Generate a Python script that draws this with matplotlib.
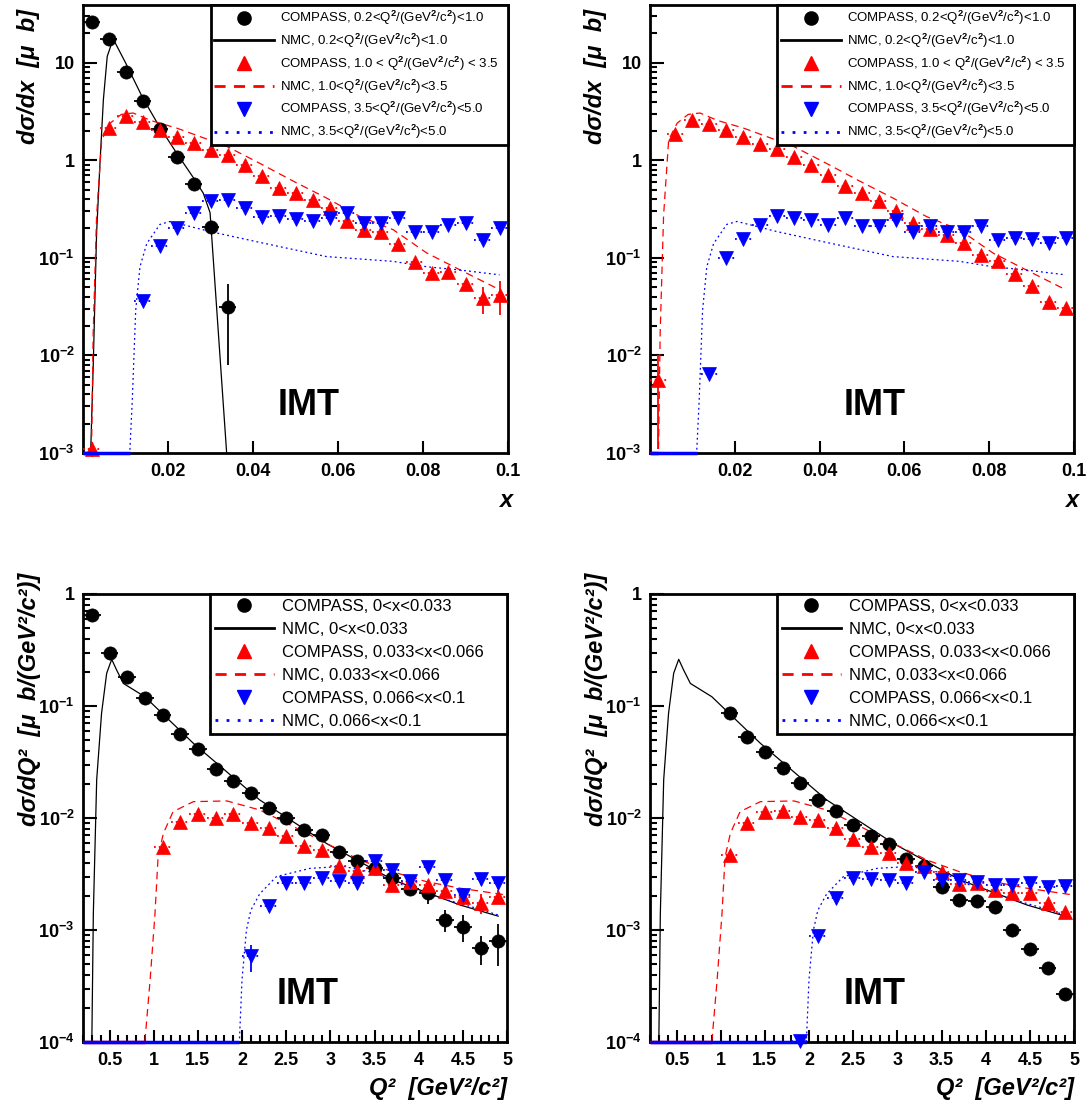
import matplotlib
matplotlib.use("Agg")
from matplotlib import pyplot as plt
from matplotlib.lines import Line2D
from matplotlib.ticker import FixedLocator, MultipleLocator, LogLocator, FuncFormatter, NullFormatter
import numpy as np

plt.rcParams['font.family'] = ['Liberation Sans', 'DejaVu Sans']
plt.rcParams['font.weight'] = 'bold'
plt.rcParams['mathtext.fontset'] = 'custom'
plt.rcParams['mathtext.rm'] = 'Liberation Sans'
plt.rcParams['mathtext.it'] = 'Liberation Sans:italic'
plt.rcParams['mathtext.bf'] = 'Liberation Sans:bold'

# ---------------- data: top panels, d sigma / dx ----------------
x_bins = [0.002, 0.006, 0.010, 0.014, 0.018, 0.022, 0.026, 0.030, 0.034, 0.038,
          0.042, 0.046, 0.050, 0.054, 0.058, 0.062, 0.066, 0.070, 0.074, 0.078,
          0.082, 0.086, 0.090, 0.094, 0.098]

tl_black = [25.9, 17.5, 8.0, 4.07, 2.09, 1.08, 0.57, 0.206, 0.031]
tl_black_err = [0.6, 0.4, 0.2, 0.1, 0.05, 0.03, 0.02, 0.01, 0.023]
tl_red = [1.1e-3, 2.14, 2.81, 2.47, 2.02, 1.74, 1.52, 1.28, 1.12, 0.885, 0.694, 0.519,
          0.461, 0.394, 0.323, 0.241, 0.191, 0.183, 0.138, 0.090, 0.0707, 0.072,
          0.0537, 0.0386, 0.0418]
tl_red_err = [0.0002, 0.05, 0.06, 0.05, 0.04, 0.03, 0.03, 0.025, 0.02, 0.02, 0.015, 0.012,
              0.01, 0.009, 0.008, 0.007, 0.006, 0.006, 0.006, 0.005, 0.005, 0.006,
              0.006, 0.012, 0.016]
tl_blue = [0.0357, 0.131, 0.201, 0.287, 0.379, 0.388, 0.323, 0.265, 0.270, 0.251, 0.241,
           0.255, 0.287, 0.230, 0.230, 0.255, 0.186, 0.183, 0.218, 0.230, 0.153, 0.201]

tr_red = [0.0056, 1.86, 2.60, 2.35, 2.02, 1.73, 1.48, 1.31, 1.09, 0.90, 0.70, 0.54,
          0.46, 0.38, 0.30, 0.23, 0.197, 0.172, 0.141, 0.107, 0.092, 0.0686,
          0.052, 0.0356, 0.0305]
tr_red_err = [0.0045, 0.05, 0.06, 0.05, 0.04, 0.03, 0.03, 0.025, 0.02, 0.02, 0.015, 0.012,
              0.01, 0.009, 0.008, 0.007, 0.006, 0.006, 0.005, 0.005, 0.004, 0.004,
              0.003, 0.003, 0.003]
tr_blue = [0.0065, 0.099, 0.156, 0.218, 0.27, 0.255, 0.245, 0.218, 0.255, 0.21, 0.21,
           0.245, 0.186, 0.21, 0.183, 0.186, 0.21, 0.153, 0.159, 0.156, 0.141, 0.159]

# NMC curves (top)
nmc_x_black = [0.0018, 0.0024, 0.0032, 0.0040, 0.0048, 0.0057, 0.0071, 0.0100, 0.0140,
               0.0180, 0.0220, 0.0260, 0.0283, 0.0299, 0.0338]
nmc_y_black = [1.0e-3, 7.7e-3, 0.18, 0.94, 4.2, 11.6, 17.5, 10.0, 4.4,
               2.2, 1.19, 0.66, 0.46, 0.29, 1.0e-3]
nmc_x_red = [0.0, 0.0020, 0.0024, 0.0032, 0.0044, 0.0064, 0.0090, 0.0118, 0.0160, 0.0220,
             0.0338, 0.0416, 0.0495, 0.0573, 0.0652, 0.0730, 0.0809, 0.0887, 0.0973]
nmc_y_red = [1.0e-3, 1.0e-3, 0.017, 0.27, 1.62, 2.4, 2.95, 3.05, 2.55, 2.14,
             1.39, 0.93, 0.61, 0.41, 0.265, 0.194, 0.112, 0.0753, 0.0489]
nmc_x_blue = [0.0, 0.0110, 0.0116, 0.0124, 0.0134, 0.0150, 0.0181, 0.0205, 0.0299,
              0.0416, 0.0573, 0.0730, 0.0809, 0.0887, 0.0980]
nmc_y_blue = [1.0e-3, 1.0e-3, 0.0035, 0.029, 0.081, 0.14, 0.22, 0.236, 0.186,
              0.144, 0.103, 0.092, 0.081, 0.075, 0.067]

# ---------------- data: bottom panels, d sigma / dQ2 ----------------
q_bins = [0.3, 0.5, 0.7, 0.9, 1.1, 1.3, 1.5, 1.7, 1.9, 2.1, 2.3, 2.5, 2.7, 2.9,
          3.1, 3.3, 3.5, 3.7, 3.9, 4.1, 4.3, 4.5, 4.7, 4.9]

bl_black = [0.65, 0.30, 0.18, 0.119, 0.083, 0.056, 0.041, 0.0274, 0.0214, 0.0166, 0.0124,
            0.0101, 0.0078, 0.0071, 0.0050, 0.0041, 0.00355, 0.00289, 0.00231, 0.00212,
            0.00123, 0.00107, 0.00069, 0.00080]
bl_black_err = [0.02, 0.01, 0.006, 0.004, 0.0025, 0.0017, 0.0012, 0.0008, 0.0007, 0.0005,
                0.0004, 0.0003, 0.00025, 0.00022, 0.00016, 0.00014, 0.00013, 0.00015,
                0.0002, 0.0004, 0.00027, 0.00029, 0.0002, 0.00032]
bl_red = [0.00555, 0.00927, 0.0108, 0.0101, 0.0108, 0.00896, 0.0081, 0.0069, 0.00566,
          0.00518, 0.00373, 0.00336, 0.0036, 0.00252, 0.0027, 0.00252, 0.00224, 0.00199,
          0.00173, 0.00199]
bl_red_err = [0.0003, 0.0003, 0.0003, 0.0003, 0.0003, 0.0003, 0.0003, 0.0002, 0.0002, 0.0002,
              0.00015, 0.00015, 0.00015, 0.00015, 0.00015, 0.00017, 0.0002, 0.00025,
              0.00035, 0.0003]
bl_blue = [5.8e-4, 0.00164, 0.00261, 0.00261, 0.00293, 0.00275, 0.00265, 0.00413, 0.00343,
           0.00275, 0.00368, 0.0028, 0.00205, 0.00283, 0.00261]
bl_blue_err = [0.00016, 0.0002, 0.0002, 0.0002, 0.0002, 0.0002, 0.0002, 0.0003, 0.00025,
               0.00025, 0.0003, 0.0003, 0.0003, 0.0003, 0.0003]

br_black = [0.086, 0.0532, 0.0386, 0.0278, 0.0204, 0.0145, 0.01155, 0.00866, 0.0069,
            0.00582, 0.00428, 0.00373, 0.00244, 0.00185, 0.00183, 0.00159, 0.0010,
            0.00067, 0.00046, 0.00027]
br_red = [0.00468, 0.00896, 0.01124, 0.01155, 0.01028, 0.0096, 0.0081, 0.00645, 0.00555,
          0.00484, 0.00399, 0.00373, 0.00332, 0.00258, 0.00265, 0.00228, 0.00212,
          0.00215, 0.00175, 0.00146]
br_blue = [1.02e-4, 8.8e-4, 0.00194, 0.00293, 0.00285, 0.0028, 0.00261, 0.00332, 0.0028,
           0.0028, 0.0027, 0.00252, 0.00252, 0.00265, 0.0024, 0.00247]

nmcq_x_black = [0.30, 0.317, 0.355, 0.41, 0.468, 0.525, 0.58, 0.657, 0.90, 1.45,
                2.20, 2.96, 3.71, 4.47, 4.90]
nmcq_y_black = [1e-4, 0.0014, 0.022, 0.086, 0.196, 0.261, 0.21, 0.159, 0.121, 0.0464,
                0.0145, 0.0059, 0.0028, 0.00167, 0.00133]
nmcq_x_red = [0.20, 0.90, 0.96, 1.015, 1.05, 1.11, 1.22, 1.45, 1.83, 2.20, 2.58, 2.96,
              3.34, 3.71, 4.09, 4.47, 5.00]
nmcq_y_red = [1e-4, 1e-4, 3.6e-4, 0.0014, 0.0045, 0.0073, 0.0114, 0.014, 0.0142, 0.0118,
              0.0084, 0.0059, 0.0042, 0.0033, 0.0027, 0.00236, 0.00205]
nmcq_x_blue = [0.20, 1.97, 2.00, 2.05, 2.10, 2.20, 2.39, 2.77, 3.15, 3.53, 3.90, 4.28,
               4.66, 4.90]
nmcq_y_blue = [1e-4, 1e-4, 3.6e-4, 1.0e-3, 0.0015, 0.0021, 0.0030, 0.00355, 0.0037,
               0.0032, 0.00236, 0.0019, 0.00156, 0.00136]

top_labels = [r"COMPASS, 0.2<Q$^2$/(GeV$^2$/c$^2$)<1.0",
              r"NMC, 0.2<Q$^2$/(GeV$^2$/c$^2$)<1.0",
              r"COMPASS, 1.0 < Q$^2$/(GeV$^2$/c$^2$) < 3.5",
              r"NMC, 1.0<Q$^2$/(GeV$^2$/c$^2$)<3.5",
              r"COMPASS, 3.5<Q$^2$/(GeV$^2$/c$^2$)<5.0",
              r"NMC, 3.5<Q$^2$/(GeV$^2$/c$^2$)<5.0"]
bottom_labels = ["COMPASS, 0<x<0.033", "NMC, 0<x<0.033",
                 "COMPASS, 0.033<x<0.066", "NMC, 0.033<x<0.066",
                 "COMPASS, 0.066<x<0.1", "NMC, 0.066<x<0.1"]

RED = '#ff0000'
BLUE = '#0000ff'
DASH = (6, 4)
DOT = (1.5, 2.5)


def compass(ax, xs, ys, err, half, marker, color, ls):
    eb = ax.errorbar(xs, ys, xerr=half, yerr=err, fmt=marker, color=color, ms=9.5,
                     mew=0.5, elinewidth=1.3, capsize=0, zorder=4)
    eb[2][0].set_linestyle(ls)
    for a in [eb[0]] + list(eb[2]):
        a.set_clip_on(False)


def nmc(ax, xs, ys, color, dashes, floor):
    line, = ax.plot(xs, ys, color=color, lw=0.9, zorder=3)
    if dashes is not None:
        line.set_dashes(dashes)
    k = 0
    while k < len(ys) and ys[k] <= floor:
        k += 1
    if k > 1:
        ax.plot(xs[:k], ys[:k], color=color, lw=2.5, solid_capstyle='butt', zorder=5, clip_on=False)


def log_label(v, pos):
    e = int(round(np.log10(v)))
    if e == 0:
        return "1"
    if e == 1:
        return "10"
    return r"$\mathbf{10^{%d}}$" % e


def style(ax, ymin, ymax):
    ax.set_yscale('log')
    ax.set_ylim(ymin, ymax)
    ax.yaxis.set_major_locator(LogLocator(base=10, numticks=20))
    ax.yaxis.set_minor_locator(LogLocator(base=10, subs=range(2, 10), numticks=20))
    ax.yaxis.set_major_formatter(FuncFormatter(log_label))
    ax.yaxis.set_minor_formatter(NullFormatter())
    for s in ax.spines.values():
        s.set_linewidth(2)
    ax.tick_params(which='both', direction='in', top=False, right=False, width=1.5)
    ax.tick_params(axis='y', which='major', length=10, labelsize=13, pad=6)
    ax.tick_params(axis='y', which='minor', length=5)
    ax.tick_params(axis='x', which='major', length=8.5, labelsize=13, pad=7)
    ax.tick_params(axis='x', which='minor', length=5)
    ax.text(0.53, 0.107, "IMT", transform=ax.transAxes, fontsize=26, fontweight='bold',
            ha='center', va='center')


def legend(ax, labels, size, hlen, spacing):
    handles = [Line2D([], [], marker='o', ls='none', color='black', ms=9.5),
               Line2D([], [], color='black', lw=2),
               Line2D([], [], marker='^', ls='none', color=RED, ms=9.5),
               Line2D([], [], color=RED, lw=2, dashes=(4, 3)),
               Line2D([], [], marker='v', ls='none', color=BLUE, ms=9.5),
               Line2D([], [], color=BLUE, lw=2, dashes=(1, 3))]
    leg = ax.legend(handles, labels, loc='upper left', bbox_to_anchor=(0.30, 0.0, 0.70, 1.0),
                    mode='expand', borderaxespad=0, fancybox=False, framealpha=1,
                    edgecolor='black', prop={'size': size, 'weight': 'normal'},
                    handlelength=hlen, handletextpad=0.5, labelspacing=spacing,
                    borderpad=0.3)
    leg.get_frame().set_linewidth(2)
    leg.set_zorder(10)


fig = plt.figure(figsize=(10.88, 11.11), dpi=100)
W, H = 1088.0, 1111.0


def make_axes(left, top, width):
    return fig.add_axes([left / W, 1 - (top + 448) / H, width / W, 448 / H])


ax_tl = make_axes(83, 5, 425)
ax_tr = make_axes(650, 5, 424)
ax_bl = make_axes(83, 594, 424)
ax_br = make_axes(650, 594, 424)

# top panels
for ax, red, red_err, blue in [(ax_tl, tl_red, tl_red_err, tl_blue),
                                (ax_tr, tr_red, tr_red_err, tr_blue)]:
    style(ax, 1e-3, 39)
    ax.set_xlim(0, 0.1)
    ax.xaxis.set_major_locator(FixedLocator([0.02, 0.04, 0.06, 0.08, 0.1]))
    ax.xaxis.set_major_formatter(FuncFormatter(lambda v, p: "%g" % v))
    if ax is ax_tl:
        nmc(ax, nmc_x_black, nmc_y_black, 'black', None, 1e-3)
        compass(ax, x_bins[:len(tl_black)], tl_black, tl_black_err, 0.002, 'o', 'black', '-')
    nmc(ax, nmc_x_red, nmc_y_red, RED, DASH, 1e-3)
    nmc(ax, nmc_x_blue, nmc_y_blue, BLUE, DOT, 1e-3)
    compass(ax, x_bins, red, red_err, 0.002, '^', RED, ':')
    compass(ax, x_bins[3:], blue, None, 0.002, 'v', BLUE, ':')
    legend(ax, top_labels, 9.5, 4.5, 0.35)
    ax.text(-0.128, 0.99, "dσ/dx  [μ  b]", transform=ax.transAxes, rotation=90,
            ha='center', va='top', fontsize=17, fontweight='bold', style='italic')
    ax.text(1.01, -0.105, "x", transform=ax.transAxes, ha='right', va='center',
            fontsize=17, fontweight='bold', style='italic')

# bottom panels
for ax, black, black_err, red, red_err, blue, blue_err, blue_start in [
        (ax_bl, bl_black, bl_black_err, bl_red, bl_red_err, bl_blue, bl_blue_err, 9),
        (ax_br, br_black, None, br_red, None, br_blue, None, 8)]:
    style(ax, 1e-4, 1)
    ax.set_xlim(0.2, 5)
    ax.xaxis.set_major_locator(FixedLocator([0.5, 1, 1.5, 2, 2.5, 3, 3.5, 4, 4.5, 5]))
    ax.xaxis.set_minor_locator(MultipleLocator(0.1))
    ax.xaxis.set_major_formatter(FuncFormatter(lambda v, p: "%g" % v))
    nmc(ax, nmcq_x_black, nmcq_y_black, 'black', None, 1e-4)
    nmc(ax, nmcq_x_red, nmcq_y_red, RED, DASH, 1e-4)
    nmc(ax, nmcq_x_blue, nmcq_y_blue, BLUE, DOT, 1e-4)
    compass(ax, q_bins[len(q_bins) - len(black):], black, black_err, 0.1, 'o', 'black', '-')
    compass(ax, q_bins[4:], red, red_err, 0.1, '^', RED, ':')
    compass(ax, q_bins[blue_start:], blue, blue_err, 0.1, 'v', BLUE, ':')
    legend(ax, bottom_labels, 12, 3.5, 0.48)
    ax.text(-0.125, 1.047, "dσ/dQ²  [μ  b/(GeV²/c²)]", transform=ax.transAxes, rotation=90,
            ha='center', va='top', fontsize=17, fontweight='bold', style='italic')
    ax.text(1.0, -0.103, "Q²  [GeV²/c²]", transform=ax.transAxes, ha='right', va='center',
            fontsize=17, fontweight='bold', style='italic')

fig.savefig("out.png", dpi=100)
